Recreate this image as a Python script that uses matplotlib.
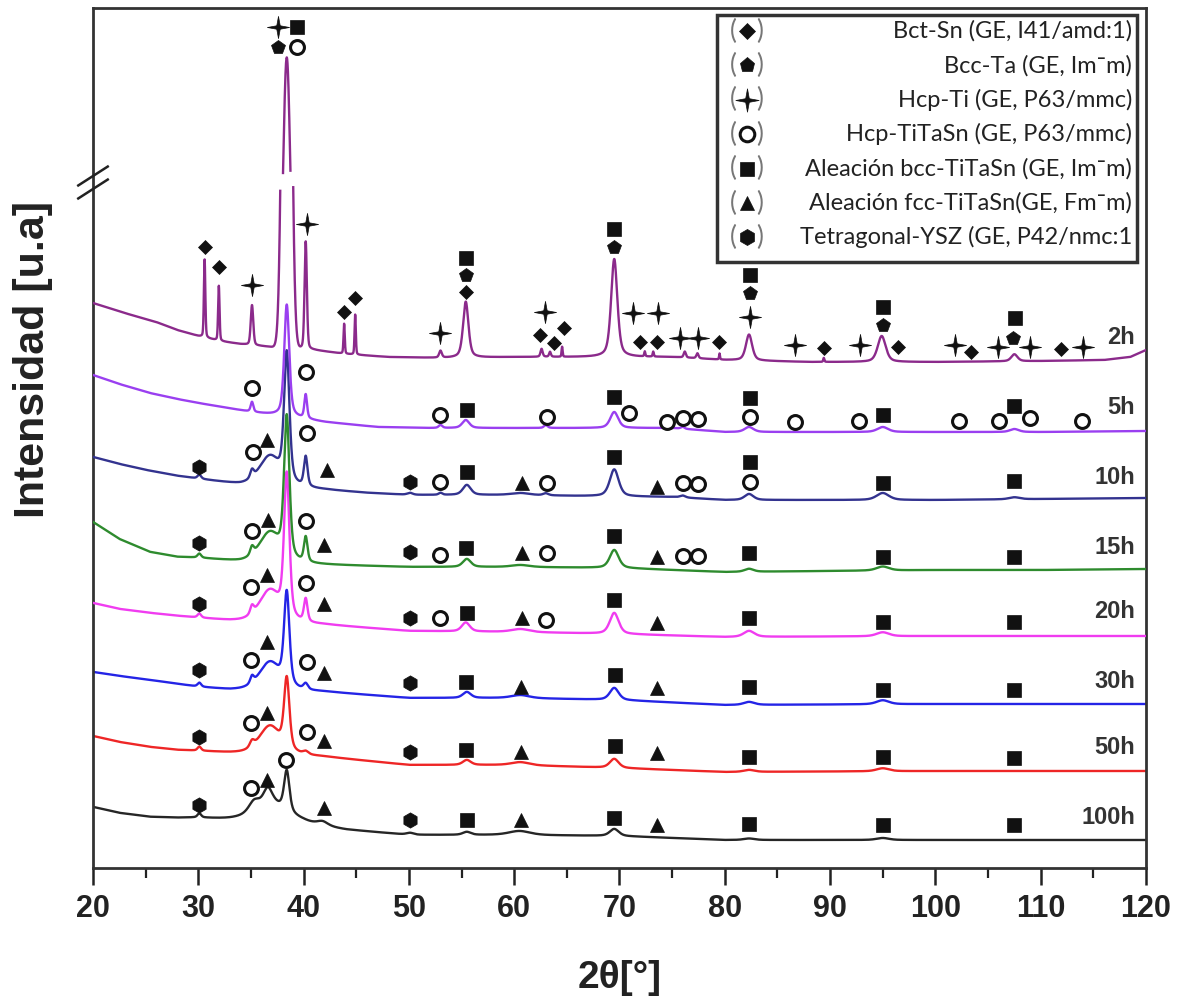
import numpy as np
import matplotlib
matplotlib.use("Agg")
import matplotlib.pyplot as plt
from matplotlib.path import Path
from matplotlib.patches import Rectangle

plt.rcParams['font.family'] = ['Liberation Sans', 'DejaVu Sans']

# milling times, top trace first
hours = ['2h', '5h', '10h', '15h', '20h', '30h', '50h', '100h']
colors = ['#8b2a8b', '#9a3ff0', '#33338f', '#2e8b2e', '#f03cf0', '#2424e6', '#ee2626', '#262626']
label_y = [531, 460, 390, 320, 256, 187, 120, 51]

# background knots: (2theta, intensity)
bg_2h = [(20, 565), (23, 555), (26, 546), (28, 538), (30, 532), (32, 527), (34, 524), (37, 521),
         (41, 518), (44, 514), (48, 511), (53, 510), (60, 511), (66, 511), (75, 511), (80, 508),
         (88, 506), (100, 506), (110, 507), (116, 508), (118.5, 511), (120, 518)]
bg_5h = [(20, 493), (22.5, 484), (25.4, 475), (28, 469), (30, 465), (35, 456), (38, 452), (42, 446),
         (47, 441), (52, 440), (60, 440), (66, 440), (75, 440), (80, 436), (100, 436), (110, 436),
         (120, 437)]
bg_10h = [(20, 411), (22.5, 404), (25, 398), (28, 392), (30, 389), (34, 383), (38, 380), (42, 378),
          (46, 375), (50, 373), (60, 373), (66, 372), (75, 371), (80, 368), (100, 368), (110, 369),
          (120, 370)]
bg_15h = [(20, 346), (22.5, 329), (25.4, 316), (28, 311), (30, 310), (34, 306), (38, 304), (42, 303),
          (50, 301), (60, 301), (70, 300), (80, 296), (100, 298), (110, 298), (120, 299)]
bg_20h = [(20, 265), (22.5, 259), (25.4, 255), (28, 252), (30, 250), (33, 247), (38, 244), (42, 243),
          (50, 237), (60, 236), (70, 234), (80, 231), (100, 232), (120, 232)]
bg_30h = [(20, 196), (22.5, 192), (25.4, 188), (28, 184), (30, 181), (33, 178), (38, 177), (42, 176),
          (50, 170), (60, 170), (70, 168), (80, 163), (100, 164), (120, 164)]
bg_50h = [(20, 132), (22.5, 126), (25.4, 121), (28, 118), (30, 117), (33, 115), (38, 113), (42, 111),
          (50, 103), (60, 103), (70, 100), (80, 96), (100, 97), (120, 97)]
bg_100h = [(20, 61), (22.5, 55), (25.4, 51), (28, 50), (30, 50), (33, 48), (40, 44), (44, 38),
           (50, 33), (60, 33), (70, 32), (80, 28), (100, 28), (120, 28)]

# reflections: (2theta, height, half width, lorentz fraction)
pk_2h = [(30.6, 78, 0.08, 0.3), (31.95, 55, 0.08, 0.3), (35.1, 40, 0.14, 0.3), (38.4, 828, 0.40, 0.0),
         (40.2, 108, 0.13, 0.3), (43.85, 30, 0.07, 0.3), (44.9, 40, 0.07, 0.3), (53.0, 7, 0.15, 0.5),
         (55.4, 56, 0.3, 0.5), (62.6, 8, 0.12, 0.5), (63.4, 5, 0.1, 0.5), (64.55, 10, 0.06, 0.3),
         (69.5, 98, 0.35, 0.5), (72.4, 5, 0.06, 0.5), (73.2, 5, 0.06, 0.5), (76.2, 6, 0.12, 0.5),
         (77.4, 5, 0.12, 0.5), (79.5, 6, 0.05, 0.5), (82.3, 26, 0.35, 0.5), (89.4, 4, 0.06, 0.5),
         (94.9, 26, 0.45, 0.5), (107.5, 7, 0.35, 0.5)]
pk_5h = [(35.1, 10, 0.15, 0.5), (38.4, 112, 0.28, 0.5), (40.2, 24, 0.15, 0.5), (53.0, 3, 0.2, 0.5),
         (55.4, 8, 0.4, 0.5), (63.0, 3, 0.2, 0.5), (69.5, 16, 0.45, 0.5), (76.0, 2, 0.2, 0.5),
         (82.3, 5, 0.5, 0.5), (95.0, 5, 0.6, 0.5), (107.5, 3, 0.5, 0.5)]
pk_10h = [(30.1, 4, 0.2, 0.5), (35.1, 8, 0.2, 0.5), (36.8, 30, 1.2, 0.5), (38.4, 128, 0.3, 0.5),
          (40.2, 30, 0.2, 0.5), (50.1, 2, 0.3, 0.5), (53.0, 2, 0.2, 0.5), (55.5, 10, 0.45, 0.5),
          (60.6, 2, 1.0, 0.5), (63.0, 2, 0.3, 0.5), (69.5, 27, 0.5, 0.5), (76.0, 2, 0.3, 0.5),
          (82.3, 6, 0.5, 0.5), (95.0, 7, 0.7, 0.5), (107.5, 2, 0.6, 0.5)]
pk_15h = [(30.1, 4, 0.2, 0.5), (35.1, 8, 0.2, 0.5), (36.8, 30, 1.2, 0.5), (38.4, 140, 0.3, 0.5),
          (40.2, 25, 0.2, 0.5), (55.5, 8, 0.45, 0.5), (60.6, 2, 1.0, 0.5), (69.5, 18, 0.5, 0.5),
          (82.3, 3, 0.5, 0.5), (95.0, 4, 0.7, 0.5)]
pk_20h = [(30.1, 4, 0.2, 0.5), (35.1, 8, 0.2, 0.5), (36.8, 32, 1.2, 0.5), (38.4, 142, 0.3, 0.5),
          (40.2, 23, 0.2, 0.5), (55.4, 9, 0.45, 0.5), (60.6, 3, 1.0, 0.5), (69.5, 21, 0.5, 0.5),
          (82.3, 6, 0.6, 0.5), (95.0, 4, 0.7, 0.5)]
pk_30h = [(30.1, 4, 0.2, 0.5), (35.1, 7, 0.2, 0.5), (36.8, 28, 1.2, 0.5), (38.4, 92, 0.3, 0.5),
          (40.2, 6, 0.25, 0.5), (55.5, 6, 0.45, 0.5), (60.6, 3, 1.0, 0.5), (69.5, 12, 0.5, 0.5),
          (82.3, 3, 0.6, 0.5), (95.0, 4, 0.7, 0.5)]
pk_50h = [(30.1, 4, 0.2, 0.5), (35.1, 6, 0.25, 0.5), (36.8, 28, 1.2, 0.5), (38.4, 70, 0.3, 0.5),
          (40.2, 3, 0.3, 0.5), (55.5, 5, 0.45, 0.5), (60.6, 3, 1.0, 0.5), (69.5, 9, 0.5, 0.5),
          (82.3, 2, 0.6, 0.5), (95.0, 3, 0.7, 0.5)]
pk_100h = [(30.1, 4, 0.2, 0.5), (35.3, 10, 0.6, 0.5), (36.6, 16, 0.5, 0.5), (37.0, 18, 2.0, 0.5),
           (38.4, 40, 0.3, 0.5), (41.8, 4, 0.6, 0.5), (50.1, 2, 0.4, 0.5), (55.5, 3, 0.45, 0.5),
           (60.5, 4, 1.2, 0.5), (69.5, 7, 0.5, 0.5), (82.3, 1.5, 0.6, 0.5), (95.0, 2, 0.7, 0.5)]

# phase identification marks: (2theta, intensity, phase)
mk_2h = [(37.6, 841, 'Ti'), (39.35, 841, 'bcc'), (37.6, 821, 'Ta'), (39.35, 821, 'hcp'),
         (30.6, 621, 'Sn'), (31.95, 601, 'Sn'), (35.1, 583, 'Ti'), (40.3, 644, 'Ti'),
         (43.85, 556, 'Sn'), (44.9, 570, 'Sn'), (53.0, 535, 'Ti'), (55.4, 610, 'bcc'),
         (55.4, 593, 'Ta'), (55.4, 576, 'Sn'), (62.45, 533, 'Sn'), (62.9, 556, 'Ti'),
         (63.8, 525, 'Sn'), (64.7, 540, 'Sn'), (69.5, 639, 'bcc'), (69.5, 621, 'Ta'),
         (71.3, 555, 'Ti'), (71.95, 526, 'Sn'), (73.55, 526, 'Sn'), (73.65, 555, 'Ti'),
         (75.75, 530, 'Ti'), (77.45, 530, 'Ti'), (79.45, 526, 'Sn'), (82.4, 593, 'bcc'),
         (82.4, 575, 'Ta'), (82.4, 551, 'Ti'), (86.65, 523, 'Ti'), (89.4, 520, 'Sn'),
         (92.85, 523, 'Ti'), (95.0, 561, 'bcc'), (95.0, 543, 'Ta'), (96.45, 521, 'Sn'),
         (101.85, 523, 'Ti'), (103.4, 516, 'Sn'), (105.95, 521, 'Ti'), (107.4, 530, 'Ta'),
         (107.55, 550, 'bcc'), (109.0, 521, 'Ti'), (111.9, 519, 'Sn'), (114.0, 521, 'Ti')]
mk_5h = [(35.1, 480, 'hcp'), (40.2, 496, 'hcp'), (53.0, 453, 'hcp'), (55.5, 458, 'bcc'),
         (63.1, 451, 'hcp'), (69.5, 471, 'bcc'), (70.9, 455, 'hcp'), (74.5, 446, 'hcp'),
         (76.0, 450, 'hcp'), (77.5, 449, 'hcp'), (82.4, 470, 'bcc'), (82.4, 451, 'hcp'),
         (86.7, 446, 'hcp'), (92.7, 447, 'hcp'), (95.0, 453, 'bcc'), (102.2, 447, 'hcp'),
         (106.0, 447, 'hcp'), (107.5, 462, 'bcc'), (109.0, 450, 'hcp'), (113.9, 447, 'hcp')]
mk_10h = [(30.1, 401, 'YSZ'), (35.2, 416, 'hcp'), (36.5, 428, 'fcc'), (40.3, 435, 'hcp'),
          (42.2, 398, 'fcc'), (50.1, 386, 'YSZ'), (53.0, 386, 'hcp'), (55.5, 396, 'bcc'),
          (60.7, 385, 'fcc'), (63.1, 385, 'hcp'), (69.5, 411, 'bcc'), (73.6, 381, 'fcc'),
          (76.0, 385, 'hcp'), (77.5, 384, 'hcp'), (82.4, 406, 'bcc'), (82.4, 386, 'hcp'),
          (95.0, 385, 'bcc'), (107.5, 387, 'bcc')]
mk_15h = [(30.1, 325, 'YSZ'), (35.1, 337, 'hcp'), (36.6, 348, 'fcc'), (40.2, 347, 'hcp'),
          (41.9, 323, 'fcc'), (50.1, 316, 'YSZ'), (53.0, 313, 'hcp'), (55.4, 320, 'bcc'),
          (60.7, 315, 'fcc'), (63.1, 315, 'hcp'), (69.5, 332, 'bcc'), (73.6, 311, 'fcc'),
          (76.0, 312, 'hcp'), (77.5, 312, 'hcp'), (82.3, 315, 'bcc'), (95.0, 311, 'bcc'),
          (107.5, 311, 'bcc')]
mk_20h = [(30.1, 264, 'YSZ'), (35.0, 281, 'hcp'), (36.5, 293, 'fcc'), (40.2, 285, 'hcp'),
          (41.9, 264, 'fcc'), (50.1, 250, 'YSZ'), (53.0, 250, 'hcp'), (55.5, 255, 'bcc'),
          (60.7, 250, 'fcc'), (63.0, 248, 'hcp'), (69.5, 268, 'bcc'), (73.6, 245, 'fcc'),
          (82.3, 250, 'bcc'), (95.0, 246, 'bcc'), (107.5, 246, 'bcc')]
mk_30h = [(30.1, 198, 'YSZ'), (35.0, 208, 'hcp'), (36.5, 226, 'fcc'), (40.3, 206, 'hcp'),
          (41.9, 195, 'fcc'), (50.1, 185, 'YSZ'), (55.4, 186, 'bcc'), (60.6, 181, 'fcc'),
          (69.6, 193, 'bcc'), (73.6, 180, 'fcc'), (82.3, 181, 'bcc'), (95.0, 178, 'bcc'),
          (107.5, 178, 'bcc')]
mk_50h = [(30.1, 131, 'YSZ'), (35.0, 145, 'hcp'), (36.5, 155, 'fcc'), (40.3, 136, 'hcp'),
          (41.9, 127, 'fcc'), (50.1, 116, 'YSZ'), (55.4, 118, 'bcc'), (60.6, 116, 'fcc'),
          (69.6, 122, 'bcc'), (73.6, 115, 'fcc'), (82.3, 111, 'bcc'), (95.0, 111, 'bcc'),
          (107.5, 110, 'bcc')]
mk_100h = [(30.1, 63, 'YSZ'), (35.0, 80, 'hcp'), (36.5, 88, 'fcc'), (38.3, 108, 'hcp'),
           (41.9, 60, 'fcc'), (50.1, 48, 'YSZ'), (55.5, 48, 'bcc'), (60.6, 48, 'fcc'),
           (69.5, 50, 'bcc'), (73.6, 43, 'fcc'), (82.3, 44, 'bcc'), (95.0, 43, 'bcc'),
           (107.5, 43, 'bcc')]

backgrounds = [bg_2h, bg_5h, bg_10h, bg_15h, bg_20h, bg_30h, bg_50h, bg_100h]
peak_lists = [pk_2h, pk_5h, pk_10h, pk_15h, pk_20h, pk_30h, pk_50h, pk_100h]
mark_lists = [mk_2h, mk_5h, mk_10h, mk_15h, mk_20h, mk_30h, mk_50h, mk_100h]

phases = ['Sn', 'Ta', 'Ti', 'hcp', 'bcc', 'fcc', 'YSZ']
phase_names = ['Bct-Sn (GE, I41/amd:1)', 'Bcc-Ta (GE, Im\u00afm)', 'Hcp-Ti (GE, P63/mmc)',
               'Hcp-TiTaSn (GE, P63/mmc)', 'Aleación bcc-TiTaSn (GE, Im\u00afm)',
               'Aleación fcc-TiTaSn(GE, Fm\u00afm)', 'Tetragonal-YSZ (GE, P42/nmc:1']

# the 2h main reflection goes off scale: values between CUT_LO and CUT_HI are skipped
CUT_LO, CUT_HI, SHOW_HI, SQUEEZE = 681, 1000, 695, 0.332

star = Path.unit_regular_star(4, 0.22)
marker_shape = {'Sn': 'D', 'Ta': 'p', 'Ti': star, 'hcp': 'o', 'bcc': 's', 'fcc': '^', 'YSZ': 'h'}
marker_size = {'Sn': 7.5, 'Ta': 10.5, 'Ti': 16, 'hcp': 10, 'bcc': 9.5, 'fcc': 10, 'YSZ': 11}


def pattern(x, bg, peaks):
    bx, by = zip(*bg)
    y = np.interp(x, bx, by)
    for c, h, w, eta in peaks:
        d = (x - c) / w
        y = y + h * (eta / (1 + d ** 2) + (1 - eta) * np.exp(-np.log(2) * d ** 2))
    return y


def mark_style(phase, scale=1.0):
    kw = dict(marker=marker_shape[phase], ms=marker_size[phase] * scale, ls='none', clip_on=False)
    if phase == 'hcp':
        kw.update(mfc='white', mec='#111111', mew=2.2)
    else:
        kw.update(mfc='#111111', mec='#111111', mew=0.5)
    return kw


fig = plt.figure(figsize=(11.82, 10.01), dpi=100)
ax = fig.add_axes([93 / 1182, 1 - 868 / 1001, 1053 / 1182, 860 / 1001])

tt = np.arange(20, 120.0001, 0.005)
for i, (name, col) in enumerate(zip(hours, colors)):
    y = pattern(tt, backgrounds[i], peak_lists[i])
    if name == '2h':
        lower = np.where(y <= CUT_LO, y, np.nan)
        upper = np.where(y >= CUT_HI, SHOW_HI + (y - CUT_HI) * SQUEEZE, np.nan)
        ax.plot(tt, lower, color=col, lw=1.7, zorder=3)
        ax.plot(tt, upper, color=col, lw=1.7, zorder=3)
    else:
        ax.plot(tt, y, color=col, lw=1.7, zorder=3 - i * 0.1)
    for mx, my, ph in mark_lists[i]:
        ax.plot([mx], [my], zorder=5, **mark_style(ph))
    ax.text(118.95, label_y[i], name, ha='right', va='center', fontsize=17,
            fontweight='bold', color='#333333')

ax.set_xlim(20, 120)
ax.set_ylim(0, 860)
ax.set_yticks([])
ax.set_xticks(np.arange(20, 121, 10))
ax.set_xticks(np.arange(25, 120, 10), minor=True)
ax.tick_params(axis='x', which='major', direction='out', length=12, width=1.8,
               labelsize=22, pad=7, colors='#222222')
ax.tick_params(axis='x', which='minor', direction='out', length=7, width=1.6, colors='#222222')
for lbl in ax.get_xticklabels():
    lbl.set_fontweight('bold')
for sp in ax.spines.values():
    sp.set_linewidth(2.0)
    sp.set_color('#333333')

# axis break on the intensity axis
for yc in (176, 189):
    ya = (868 - yc) / 860
    ax.plot([-0.014, 0.014], [ya - 0.011, ya + 0.011], transform=ax.transAxes,
            color='#222222', lw=1.8, clip_on=False, zorder=6)

# phase key
x0, x1 = (717 - 93) / 1053, (1137 - 93) / 1053
y0, y1 = (868 - 262) / 860, (868 - 15) / 860
ax.add_patch(Rectangle((x0, y0), x1 - x0, y1 - y0, transform=ax.transAxes, facecolor='white',
                       edgecolor='#333333', lw=2.5, zorder=7))
xm = (747 - 93) / 1053
for j, (ph, txt) in enumerate(zip(phases, phase_names)):
    yr = (868 - (31 + 34.4 * j)) / 860
    ax.text(0.987, yr, txt, transform=ax.transAxes, ha='right', va='center', fontsize=17,
            family=['Lato', 'DejaVu Sans'], color='#222222', zorder=8)
    for dx, ch in ((-0.0125, '('), (0.0125, ')')):
        ax.text(xm + dx, yr, ch, transform=ax.transAxes, ha='center', va='center', fontsize=19,
                family=['Lato', 'DejaVu Sans'], color='#777777', zorder=8)
    ax.plot([xm], [yr], transform=ax.transAxes, zorder=9, **mark_style(ph, 1.05))

fig.text(620 / 1182, 1 - 978 / 1001, '2\u03b8[\u00b0]', ha='center', va='center',
         fontsize=28, fontweight='bold', color='#222222')
fig.text(33 / 1182, 1 - 360 / 1001, 'Intensidad [u.a]', ha='center', va='center', rotation=90,
         fontsize=31, fontweight='bold', color='#222222')

fig.savefig('out.png', dpi=100)
